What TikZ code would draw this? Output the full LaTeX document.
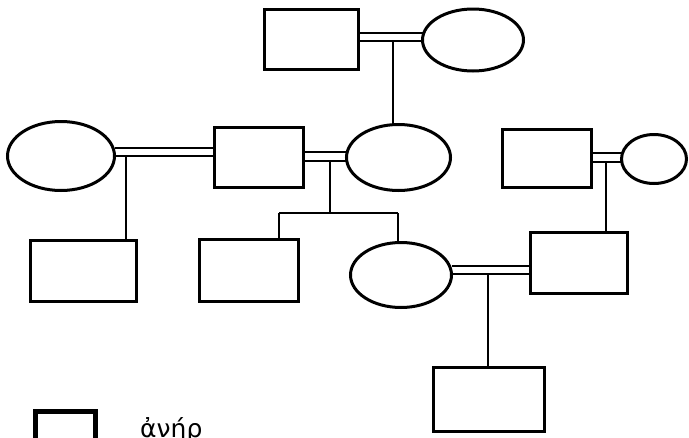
\documentclass[tikz,border=0pt]{standalone}
\usepackage{fontspec}
\newfontfamily\greekfont{DejaVu Sans}
\usetikzlibrary{shapes.geometric,backgrounds}
\tikzset{
  man/.style={draw, rectangle, line width=3pt, inner sep=0pt, outer sep=0pt},
  woman/.style={draw, ellipse, line width=3pt, inner sep=0pt, outer sep=0pt},
  marriage/.style={draw, double, line width=2pt, double distance=6.5pt},
  kin/.style={draw, line width=1.5pt},
}
\begin{document}
\begin{tikzpicture}[x=1pt,y=-1pt]
\useasboundingbox (0,0) rectangle (689,437);
\clip (0,0) rectangle (689,437);
% people
\node[man, minimum width=94pt, minimum height=60pt] (R1) at (311.5,39.5) {};
\node[woman, minimum width=101pt, minimum height=62pt] (E1) at (473,40) {};
\node[man, minimum width=89pt, minimum height=60pt] (R2) at (259,157.5) {};
\node[woman, minimum width=104pt, minimum height=66pt] (E2) at (398.5,157.5) {};
\node[woman, minimum width=107pt, minimum height=69pt] (E3) at (61,156) {};
\node[man, minimum width=106pt, minimum height=61pt] (R3) at (83.5,271) {};
\node[man, minimum width=99pt, minimum height=62pt] (R4) at (249,270.5) {};
\node[woman, minimum width=101pt, minimum height=65pt] (E4) at (401,275) {};
\node[man, minimum width=97pt, minimum height=61pt] (R5) at (579,263) {};
\node[man, minimum width=111pt, minimum height=64pt] (R6) at (489,399.5) {};
\node[man, minimum width=89pt, minimum height=58pt] (R7) at (547,158.5) {};
\node[woman, minimum width=65pt, minimum height=49pt] (E5) at (654,159) {};
% legend
\node[man, line width=5pt, minimum width=60pt, minimum height=40pt] (L1) at (65.5,431) {};
\node[anchor=base west, inner sep=0pt, font=\greekfont\fontsize{25}{30}\selectfont] (T1) at (140,437) {ἀνήρ};
% connector helper coordinates
\coordinate (m1) at (0,37);
\coordinate (m2) at (0,152);
\coordinate (m3) at (0,156.5);
\coordinate (m4) at (0,270);
\coordinate (m5) at (0,157.5);
\coordinate (d1) at (393,41.5);
\coordinate (d2) at (126,156.5);
\coordinate (d3) at (330,161);
\coordinate (s1) at (279,213);
\coordinate (s2) at (398,213);
\coordinate (d4) at (488,274.5);
\coordinate (d5) at (606,162);
\begin{pgfonlayer}{background}
\fill[white] (0,0) rectangle (689,437);
% marriages
\path[marriage] (R1.east |- m1) -- (E1.west |- m1);
\path[marriage] (E3.east |- m2) -- (R2.west |- m2);
\path[marriage] (R2.east |- m3) -- (E2.west |- m3);
\path[marriage] (E4.east |- m4) -- (R5.west |- m4);
\path[marriage] (R7.east |- m5) -- (E5.west |- m5);
% descent
\path[kin] (d1) -- (d1 |- E2.north);
\path[kin] (d2) -- (d2 |- R3.north);
\path[kin] (d3) -- (d3 |- s1);
\path[kin] (s1) -- (s2);
\path[kin] (s1) -- (s1 |- R4.north);
\path[kin] (s2) -- (s2 |- E4.north);
\path[kin] (d4) -- (d4 |- R6.north);
\path[kin] (d5) -- (d5 |- R5.north);
\end{pgfonlayer}
\end{tikzpicture}
\end{document}
